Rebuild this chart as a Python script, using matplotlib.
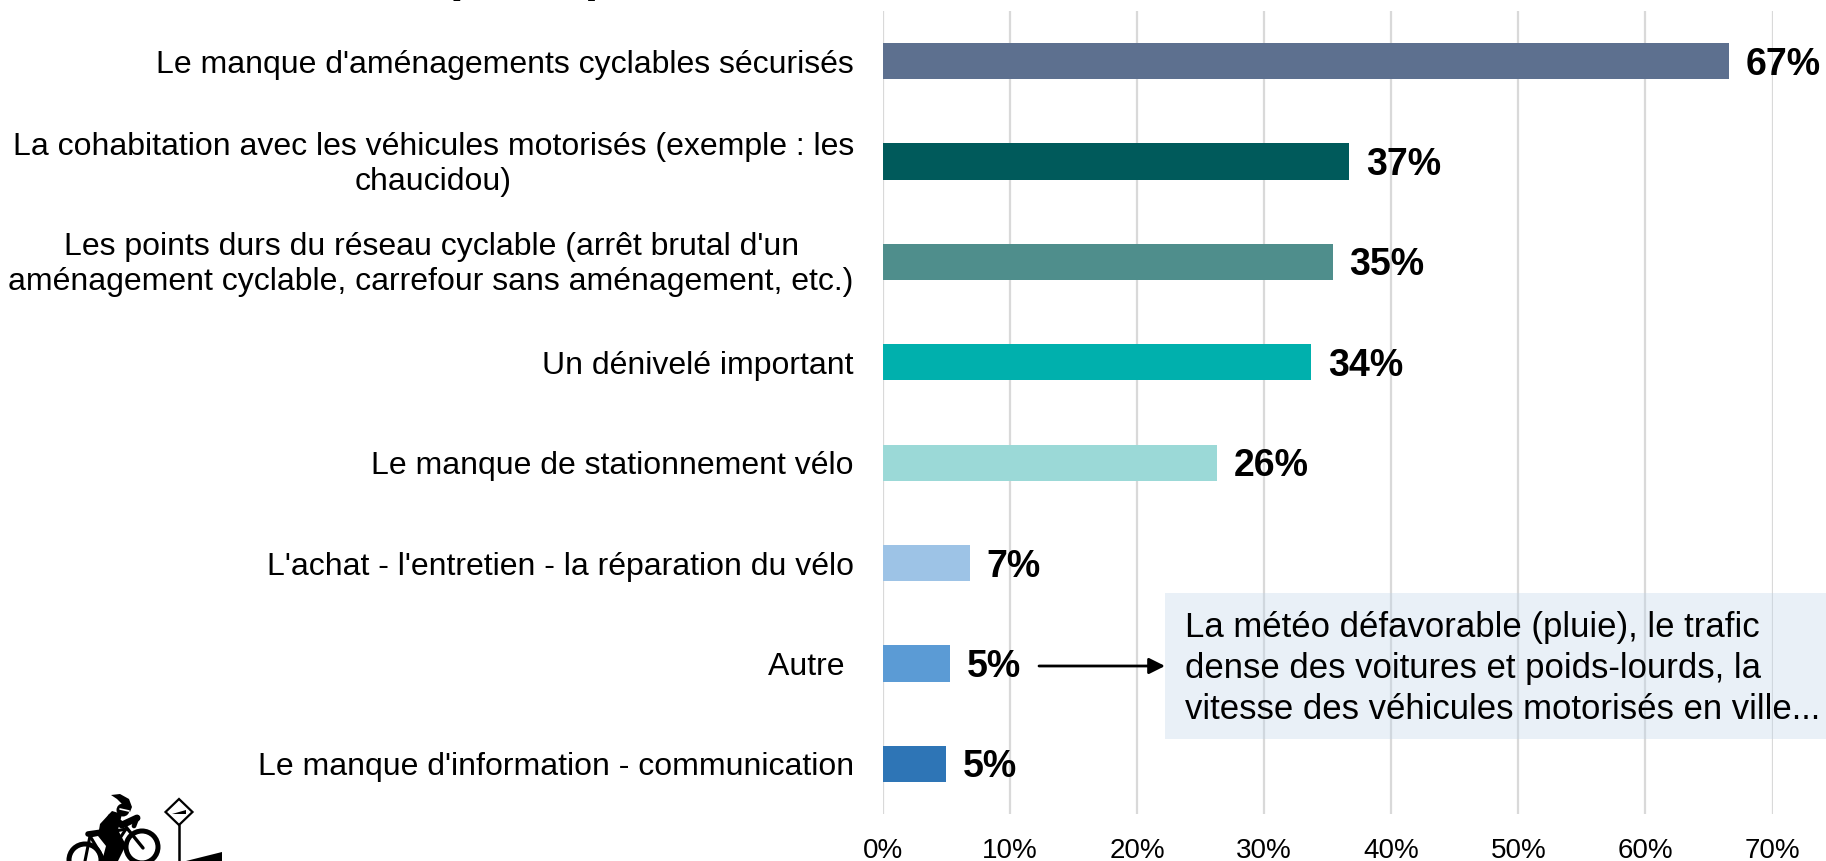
import matplotlib
matplotlib.use("Agg")
import matplotlib.pyplot as plt
from matplotlib.patches import Circle, Polygon
from matplotlib.lines import Line2D
from matplotlib.transforms import IdentityTransform, ScaledTranslation

plt.rcParams['font.family'] = ['Liberation Sans', 'DejaVu Sans']

W, H = 1826, 861
categories = [
    "Le manque d'aménagements cyclables sécurisés",
    "La cohabitation avec les véhicules motorisés (exemple : les\nchaucidou)",
    "Les points durs du réseau cyclable (arrêt brutal d'un\naménagement cyclable, carrefour sans aménagement, etc.)",
    "Un dénivelé important",
    "Le manque de stationnement vélo",
    "L'achat - l'entretien - la réparation du vélo",
    "Autre ",
    "Le manque d'information - communication",
]
values = [66.6, 36.7, 35.4, 33.7, 26.3, 6.85, 5.27, 4.97]
value_labels = ["67%", "37%", "35%", "34%", "26%", "7%", "5%", "5%"]
colors = ["#5D708F", "#005A5B", "#4F8E8C", "#00B0AD", "#9BD9D7", "#9DC3E6", "#5B9BD5", "#2E75B6"]
xticks = [0, 10, 20, 30, 40, 50, 60, 70]
note_lines = ["La météo défavorable (pluie), le trafic",
              "dense des voitures et poids-lourds, la",
              "vitesse des véhicules motorisés en ville..."]

fig = plt.figure(figsize=(W/100, H/100), dpi=100)
ax = fig.add_axes([883/W, 1-814/H, (1772.5-883)/W, (814-11)/H])
y = list(range(len(values)))
ax.barh(y, values, height=0.36, color=colors, zorder=3)
ax.set_ylim(len(values)-0.5, -0.5)
ax.set_xlim(0, 70)
ax.set_xticks(xticks)
ax.set_xticklabels([f"{t}%" for t in xticks], fontsize=20)
ax.set_yticks(y)
ax.set_yticklabels(categories, fontsize=23, ha='right', multialignment='center', linespacing=1.24)
ax.tick_params(axis='both', length=0)
ax.tick_params(axis='x', pad=17)
ax.tick_params(axis='y', pad=21)
ax.grid(axis='x', color='#D9D9D9', lw=1.6, zorder=0)
for s in ax.spines.values():
    s.set_visible(False)
# Two-line labels sit a little higher than the bar centre
for lab, cat in zip(ax.get_yticklabels(), categories):
    if "\n" in cat:
        lab.set_transform(lab.get_transform() + ScaledTranslation(0, 3.5/100, fig.dpi_scale_trans))
for yi, v, l in zip(y, values, value_labels):
    ax.annotate(l, (v, yi), xytext=(12, -2.5), textcoords='offset points', va='center', ha='left',
                fontsize=27, fontweight='bold', color='black', zorder=5, clip_on=False)

# Note box
fig.patches.append(plt.Rectangle((1165/W, 1-739/H), (W-1165)/W, 146/H, transform=fig.transFigure,
                                 facecolor='#C0D6EA', edgecolor='none', alpha=0.35, zorder=6))
for i, t in enumerate(note_lines):
    fig.text(1185/W, 1-(627+41.2*i)/H, t, fontsize=25, va='center', ha='left', zorder=7)
ax.annotate("", xy=(1165, H-666), xytext=(1039, H-666), xycoords='figure pixels', textcoords='figure pixels',
            arrowprops=dict(arrowstyle='-|>', color='black', lw=2, mutation_scale=24, shrinkA=0, shrinkB=0), zorder=8)

# Title, cropped by the top edge of the figure in the reference
fig.text(449.5/W, 1+8.6/H, "principaux freins", fontsize=35.6, fontweight='bold', ha='left', va='baseline')

# Cyclist and slope sign pictogram
def P(x, yy):
    return (x, H-yy)
idt = IdentityTransform()
def add_line(pts, lw, color='black'):
    xs, ys = zip(*[P(*p) for p in pts])
    fig.add_artist(Line2D(xs, ys, lw=lw, color=color, transform=idt, solid_capstyle='round', zorder=9))
def add_poly(pts, fc='black', ec='none', lw=0):
    fig.add_artist(Polygon([P(*p) for p in pts], closed=True, facecolor=fc, edgecolor=ec, lw=lw, transform=idt, zorder=9))
def add_circle(c, r, fc='none', ec='black', lw=3.6):
    fig.add_artist(Circle(P(*c), r, facecolor=fc, edgecolor=ec, lw=lw, transform=idt, zorder=9))

add_circle((85, 860), 16)
add_circle((142, 847), 16)
add_line([(126, 827), (143, 848)], 2.4)
add_line([(90, 836), (126, 829)], 2.2)
add_line([(90, 836), (85, 861)], 2.2)
add_line([(126, 829), (105, 861)], 2.2)
add_line([(90, 836), (105, 861)], 2.2)
add_line([(88, 834), (102, 832)], 4)
add_poly([(112, 811), (122, 814), (118, 830), (126, 845), (118, 861), (102, 861), (106, 846), (98, 836), (100, 824)])
add_line([(111, 817), (122, 825), (137, 818)], 5)
add_line([(137, 818), (134, 826)], 3.4)
add_circle((123, 810), 6.5, fc='black', lw=0)
add_poly([(111, 795), (120, 794), (129, 799), (132, 807), (130, 812), (122, 804), (117, 799)])
add_line([(129, 811), (120, 809)], 1.2, color='white')
add_poly([(179, 799), (192.5, 812), (179, 825), (165.5, 812)], fc='white', ec='black', lw=1.6)
add_poly([(172, 814), (186, 810), (186, 814)])
add_line([(179, 825), (179, 861)], 1.8)
add_poly([(186, 861), (222, 852), (222, 861)])

fig.savefig("out.png", dpi=100)
